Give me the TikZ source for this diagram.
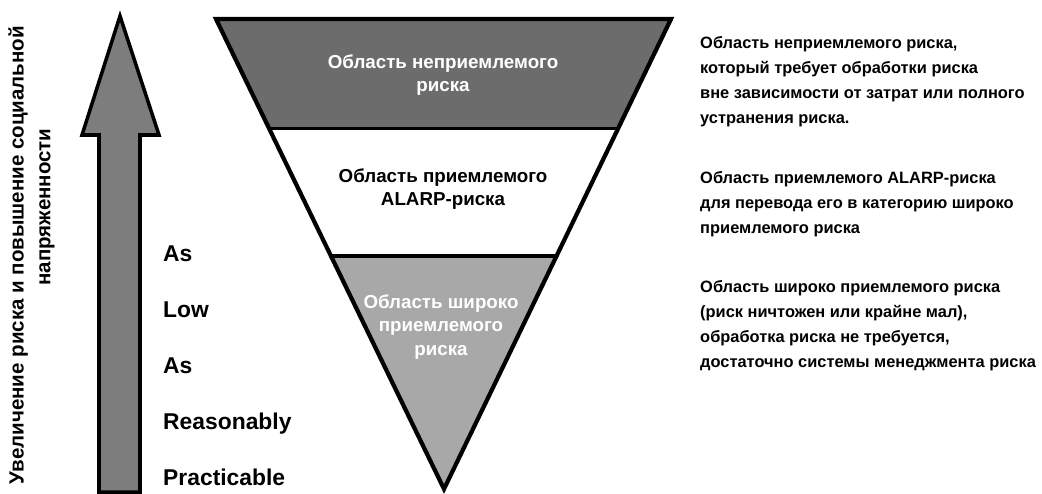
\documentclass[tikz,border=0pt]{standalone}
\usepackage{fontspec}
\setmainfont{Liberation Sans}
\usetikzlibrary{calc}
\definecolor{darkzone}{RGB}{108,108,108}
\definecolor{lightzone}{RGB}{168,168,168}
\definecolor{arrowfill}{RGB}{125,125,125}

\begin{document}
\begin{tikzpicture}[x=0.03cm,y=-0.03cm,
    zonetext/.style={font=\bfseries\fontsize{16}{20}\selectfont,align=center,inner sep=0pt},
    notetext/.style={font=\bfseries\fontsize{14}{21.3}\selectfont,align=left,anchor=north west,inner sep=0pt},
    alarpword/.style={font=\bfseries\fontsize{19.5}{22}\selectfont,anchor=base west,inner sep=0pt},
    sidetext/.style={font=\bfseries\fontsize{17.5}{20}\selectfont,rotate=90,inner sep=0pt}]
  \useasboundingbox (0,0) rectangle (1042,493);
  % inverted triangle
  \coordinate (tl) at (216,19);
  \coordinate (tr) at (671,19);
  \coordinate (apex) at (444,489);
  \coordinate (l1) at ($(tl)!0.233!(apex)$);
  \coordinate (r1) at ($(tr)!0.233!(apex)$);
  \coordinate (l2) at ($(tl)!0.504!(apex)$);
  \coordinate (r2) at ($(tr)!0.504!(apex)$);
  \fill[darkzone] (tl) -- (tr) -- (r1) -- (l1) -- cycle;
  \fill[lightzone] (l2) -- (r2) -- (apex) -- cycle;
  \draw[line width=3.6pt,line join=miter] (tl) -- (tr) -- (apex) -- cycle;
  \draw[line width=3pt] (l1) -- (r1) (l2) -- (r2);
  \node[zonetext,text=white] (unacc) at (443,75) {Область неприемлемого\\риска};
  \node[zonetext] (alarp) at (443,189) {Область приемлемого\\ALARP-риска};
  \node[zonetext,text=white] (broad) at (441,327) {Область широко\\приемлемого\\риска};
  % arrow
  \draw[fill=arrowfill,line width=3pt,line join=miter]
    (99,492) -- (99,135) -- (82,135) -- (120,16) -- (159,135) -- (140,135) -- (140,492) -- cycle;
  \node[sidetext] (riskup) at (18,255) {Увеличение риска и повышение социальной};
  \node[sidetext] (tension) at (47,207) {напряженности};
  \foreach \word [count=\i] in {As,Low,As,Reasonably,Practicable}
    \node[alarpword] (word\i) at (163,205+56*\i) {\word};
  % notes
  \node[notetext] (unaccnote) at (700,36) {Область неприемлемого риска,\\который требует обработки риска\\вне зависимости от затрат или полного\\устранения риска.};
  \node[notetext] (alarpnote) at (700,171) {Область приемлемого ALARP-риска\\для перевода его в категорию широко\\приемлемого риска};
  \node[notetext] (broadnote) at (700,280) {Область широко приемлемого риска\\(риск ничтожен или крайне мал),\\обработка риска не требуется,\\достаточно системы менеджмента риска};
\end{tikzpicture}
\end{document}
